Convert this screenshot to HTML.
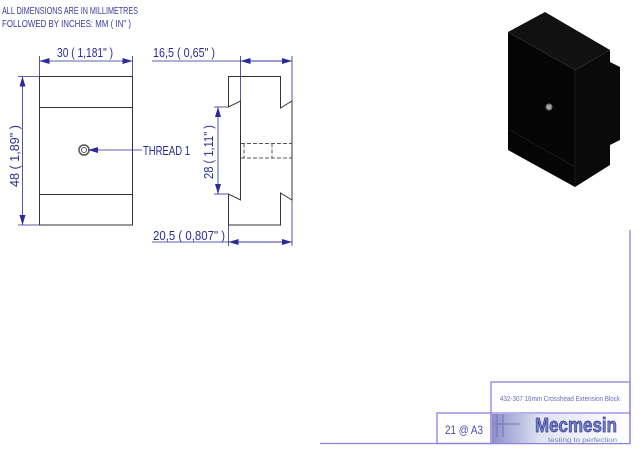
<!DOCTYPE html>
<html><head><meta charset="utf-8"><style>
html,body{margin:0;padding:0;background:#fff;width:640px;height:460px;overflow:hidden}
svg{display:block}
text{font-family:"Liberation Sans",sans-serif}
</style></head><body>
<svg width="640" height="460" viewBox="0 0 640 460" xmlns="http://www.w3.org/2000/svg">
<defs>
<marker id="a" viewBox="0 0 10 6" refX="10" refY="3" markerWidth="10" markerHeight="6" orient="auto-start-reverse" markerUnits="userSpaceOnUse"><path d="M0,0L10,3L0,6z" fill="#2a2a9a"/></marker>
<linearGradient id="lg" x1="0" x2="1" y1="0" y2="0"><stop offset="0" stop-color="#8a8ec8"/><stop offset="0.35" stop-color="#e0e2f2"/><stop offset="1" stop-color="#fff"/></linearGradient>
</defs>
<g fill="#3a3aa0" font-size="10.5">
<text x="2" y="14" textLength="136" lengthAdjust="spacingAndGlyphs">ALL DIMENSIONS ARE IN MILLIMETRES</text>
<text x="2" y="27" textLength="129" lengthAdjust="spacingAndGlyphs">FOLLOWED BY INCHES:    MM ( IN" )</text>
</g>
<!-- front view -->
<g fill="none" stroke="#333" stroke-width="1">
<rect x="39.5" y="76.5" width="93" height="148.5"/>
<line x1="39.5" y1="107.5" x2="132.5" y2="107.5"/>
<line x1="39.5" y1="194.5" x2="132.5" y2="194.5"/>
<circle cx="84" cy="150" r="5" stroke="#555" stroke-width="1.5"/>
<circle cx="84" cy="150" r="2.5" stroke="#555"/>
</g>
<g stroke="#2a2a9a" stroke-width="0.8" fill="none">
<line x1="39.5" y1="56" x2="39.5" y2="76"/><line x1="132.5" y1="56" x2="132.5" y2="76"/>
<line x1="39.5" y1="61" x2="132.5" y2="61" marker-start="url(#a)" marker-end="url(#a)"/>
<line x1="18" y1="76.5" x2="39" y2="76.5"/><line x1="18" y1="225" x2="39" y2="225"/>
<line x1="22.5" y1="76.5" x2="22.5" y2="225" marker-start="url(#a)" marker-end="url(#a)"/>
<line x1="142" y1="150" x2="88" y2="150" marker-end="url(#a)"/>
<line x1="152" y1="61" x2="292" y2="61"/>
<line x1="240.5" y1="56" x2="240.5" y2="101"/><line x1="292" y1="56" x2="292" y2="246"/>
<line x1="240.5" y1="61" x2="292" y2="61" marker-start="url(#a)" marker-end="url(#a)"/>
<line x1="214" y1="107" x2="228" y2="107"/><line x1="214" y1="194" x2="228" y2="194"/>
<line x1="218" y1="107" x2="218" y2="194" marker-start="url(#a)" marker-end="url(#a)"/>
<line x1="228.5" y1="225" x2="228.5" y2="246"/>
<line x1="152" y1="242" x2="292" y2="242"/>
<line x1="228.5" y1="242" x2="292" y2="242" marker-start="url(#a)" marker-end="url(#a)"/>
</g>
<g fill="#2a2a9a" font-size="12.5">
<text x="57" y="57" textLength="56" lengthAdjust="spacingAndGlyphs">30 ( 1,181" )</text>
<text x="153" y="57" textLength="62" lengthAdjust="spacingAndGlyphs">16,5 ( 0,65" )</text>
<text x="153" y="240" textLength="72" lengthAdjust="spacingAndGlyphs">20,5 ( 0,807" )</text>
<text x="143" y="155" textLength="47" lengthAdjust="spacingAndGlyphs">THREAD 1</text>
<text transform="translate(19,187) rotate(-90)" textLength="62" lengthAdjust="spacingAndGlyphs">48 ( 1,89" )</text>
<text transform="translate(213,179) rotate(-90)" textLength="54" lengthAdjust="spacingAndGlyphs">28 ( 1,11" )</text>
</g>
<!-- side view -->
<g fill="none" stroke="#333" stroke-width="1">
<path d="M228.5,76.5 H280.5 V108 L292,101 V200 L280.5,193 V225 H228.5 V194 L240.5,200 V101 L228.5,107 Z"/>
<g stroke="#555" stroke-dasharray="4,2"><line x1="241" y1="143.5" x2="292" y2="143.5"/><line x1="241" y1="158" x2="292" y2="158"/><line x1="244" y1="143.5" x2="244" y2="158"/><line x1="272" y1="143.5" x2="272" y2="158"/></g>
</g>
<!-- 3D -->
<polygon points="508,32 545,12 610,50 575,70" fill="#111"/>
<polygon points="508,32 575,70 575,187 508,150" fill="#050505"/>
<polygon points="575,70 610,50 610,62 620,67 620,140 610,145 610,165 575,187" fill="#0a0a0a"/>
<line x1="508" y1="32" x2="575" y2="70" stroke="#333" stroke-width="0.7"/>
<line x1="575" y1="70" x2="610" y2="50" stroke="#333" stroke-width="0.7"/>
<line x1="575" y1="70" x2="575" y2="187" stroke="#222" stroke-width="0.7"/>
<line x1="510" y1="130" x2="575" y2="167" stroke="#222" stroke-width="0.7"/>
<circle cx="549" cy="107" r="3.5" fill="#777"/><circle cx="549" cy="107" r="2" fill="#aaa"/>
<!-- title block -->
<g stroke="#8c80e0" stroke-width="1.3" fill="none">
<line x1="630" y1="230" x2="630" y2="443"/>
<line x1="320" y1="443.5" x2="630" y2="443.5"/>
<rect x="491" y="382" width="139" height="61.5"/>
<line x1="491" y1="413" x2="630" y2="413"/>
<rect x="437" y="413" width="54" height="30.5"/>
</g>
<rect x="492" y="414" width="137" height="29" fill="url(#lg)"/>
<g stroke="#6a70b8" stroke-width="1.5" opacity="0.6"><line x1="497" y1="414" x2="497" y2="437"/><line x1="503" y1="414" x2="503" y2="437"/><line x1="494" y1="424" x2="520" y2="424"/></g>
<text x="500" y="401" font-size="7.5" fill="#6a6ac0" textLength="120" lengthAdjust="spacingAndGlyphs">432-307 16mm Crosshead Extension Block</text>
<text x="445" y="434" font-size="12" fill="#4a4aa8" textLength="38" lengthAdjust="spacingAndGlyphs">21 @ A3</text>
<text x="535" y="432" font-size="20" font-weight="bold" fill="#6f7fc8" stroke="#3a3a90" stroke-width="0.7" textLength="82" lengthAdjust="spacingAndGlyphs">Mecmesin</text>
<text x="548" y="442" font-size="6" fill="#6a8aaa" textLength="69" lengthAdjust="spacingAndGlyphs">testing to perfection</text>
</svg>
</body></html>
